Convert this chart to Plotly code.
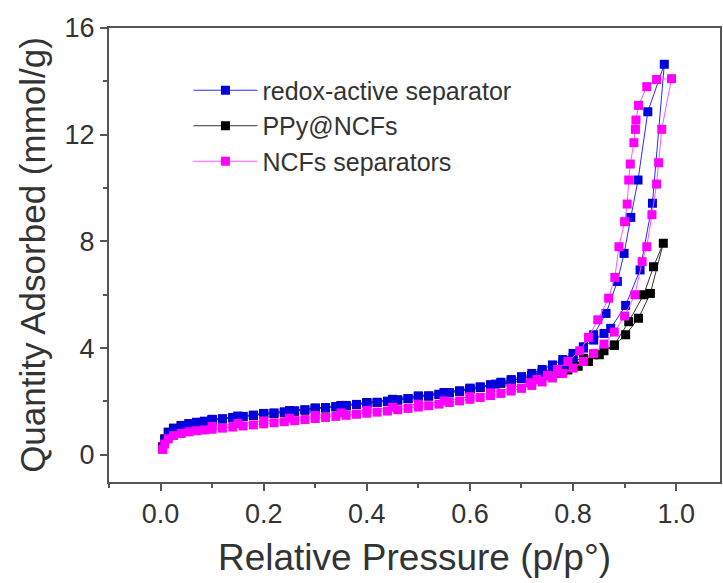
import plotly.graph_objects as go

# ---- data ----
redox_p = [0.004, 0.008, 0.015, 0.025, 0.04, 0.055, 0.07, 0.085, 0.10, 0.12, 0.14, 0.16, 0.18, 0.20,
           0.22, 0.24, 0.26, 0.28, 0.30, 0.32, 0.34, 0.36, 0.38, 0.40, 0.42, 0.44, 0.46, 0.48, 0.50,
           0.52, 0.54, 0.56, 0.58, 0.60, 0.62, 0.64, 0.66, 0.68, 0.70, 0.72, 0.74, 0.76, 0.78, 0.80,
           0.82, 0.84, 0.86, 0.873, 0.902, 0.93, 0.954, 0.977,
           0.945, 0.926, 0.912, 0.899, 0.886, 0.864, 0.84, 0.82, 0.80, 0.78, 0.76, 0.74, 0.72, 0.70,
           0.65, 0.60, 0.55, 0.50, 0.45, 0.40, 0.35, 0.30, 0.25, 0.20, 0.15, 0.10]
redox_q = [0.25, 0.55, 0.82, 0.98, 1.10, 1.17, 1.22, 1.26, 1.30, 1.35, 1.40, 1.44, 1.49, 1.53,
           1.57, 1.61, 1.65, 1.69, 1.73, 1.77, 1.81, 1.85, 1.89, 1.93, 1.97, 2.01, 2.06, 2.11, 2.16,
           2.21, 2.27, 2.33, 2.40, 2.47, 2.55, 2.63, 2.72, 2.82, 2.93, 3.05, 3.20, 3.37, 3.57, 3.80,
           4.05, 4.30, 4.55, 4.74, 5.60, 6.93, 9.43, 14.64,
           12.86, 10.30, 8.90, 7.55, 6.50, 5.30, 4.50, 4.00, 3.65, 3.40, 3.20, 3.05, 2.95, 2.85,
           2.65, 2.50, 2.33, 2.20, 2.07, 1.95, 1.84, 1.75, 1.65, 1.55, 1.45, 1.33]

ppy_p = [0.004, 0.008, 0.015, 0.025, 0.04, 0.055, 0.07, 0.085, 0.10, 0.12, 0.14, 0.16, 0.18, 0.20,
         0.22, 0.24, 0.26, 0.28, 0.30, 0.32, 0.34, 0.36, 0.38, 0.40, 0.42, 0.44, 0.46, 0.48, 0.50,
         0.52, 0.54, 0.56, 0.58, 0.60, 0.62, 0.64, 0.66, 0.68, 0.70, 0.72, 0.74, 0.76, 0.78, 0.80,
         0.82, 0.84, 0.86, 0.88, 0.902, 0.927, 0.95, 0.975,
         0.956, 0.937, 0.908, 0.88, 0.851, 0.83, 0.81, 0.79, 0.77, 0.75, 0.72, 0.68, 0.64, 0.60,
         0.55, 0.50, 0.45, 0.40, 0.35, 0.30, 0.25, 0.20, 0.15, 0.10]
ppy_q = [0.30, 0.60, 0.85, 1.00, 1.10, 1.16, 1.21, 1.25, 1.29, 1.34, 1.38, 1.43, 1.47, 1.51,
         1.55, 1.59, 1.63, 1.67, 1.71, 1.75, 1.79, 1.83, 1.88, 1.92, 1.96, 2.00, 2.05, 2.10, 2.15,
         2.20, 2.26, 2.32, 2.38, 2.45, 2.52, 2.60, 2.68, 2.77, 2.87, 2.98, 3.10, 3.23, 3.37, 3.50,
         3.62, 3.75, 3.90, 4.10, 4.50, 5.12, 6.05, 7.93,
         7.05, 6.00, 4.99, 4.12, 3.75, 3.50, 3.32, 3.18, 3.06, 2.96, 2.84, 2.70, 2.58, 2.47,
         2.33, 2.20, 2.08, 1.96, 1.85, 1.75, 1.65, 1.55, 1.44, 1.32]

ncf_p = [0.004, 0.008, 0.015, 0.025, 0.04, 0.055, 0.07, 0.085, 0.10, 0.12, 0.14, 0.16, 0.18, 0.20,
         0.22, 0.24, 0.26, 0.28, 0.30, 0.32, 0.34, 0.36, 0.38, 0.40, 0.42, 0.44, 0.46, 0.48, 0.50,
         0.52, 0.54, 0.56, 0.58, 0.60, 0.62, 0.64, 0.66, 0.68, 0.70, 0.72, 0.74, 0.76, 0.78, 0.80,
         0.82, 0.84, 0.86, 0.88, 0.90, 0.92, 0.934, 0.943, 0.953, 0.962, 0.966, 0.972, 0.991,
         0.962, 0.943, 0.927, 0.922, 0.921, 0.918, 0.911, 0.908, 0.905, 0.900, 0.889, 0.881, 0.869,
         0.848, 0.83, 0.813, 0.79, 0.77, 0.75, 0.73, 0.717, 0.68, 0.64, 0.60, 0.55, 0.50, 0.45,
         0.40, 0.35, 0.30, 0.25, 0.20, 0.15, 0.10]
ncf_q = [0.20, 0.40, 0.60, 0.72, 0.80, 0.86, 0.90, 0.93, 0.96, 1.00, 1.04, 1.08, 1.12, 1.16,
         1.20, 1.24, 1.28, 1.32, 1.36, 1.40, 1.44, 1.48, 1.52, 1.56, 1.60, 1.64, 1.69, 1.74, 1.79,
         1.84, 1.90, 1.96, 2.02, 2.08, 2.15, 2.22, 2.30, 2.39, 2.49, 2.60, 2.73, 2.88, 3.05, 3.25,
         3.50, 3.80, 4.15, 4.60, 5.20, 6.00, 7.24, 7.80, 9.00, 10.15, 10.95, 12.20, 14.10,
         14.07, 13.80, 13.10, 12.55, 12.20, 11.70, 10.90, 10.30, 9.40, 8.74, 7.80, 6.65, 5.87,
         5.06, 4.40, 3.90, 3.50, 3.20, 2.98, 2.82, 2.70, 2.50, 2.32, 2.18, 2.02, 1.90, 1.78,
         1.67, 1.57, 1.47, 1.37, 1.27, 1.17, 1.06]

x_ticks = [0.0, 0.2, 0.4, 0.6, 0.8, 1.0]
x_tick_labels = ["0.0", "0.2", "0.4", "0.6", "0.8", "1.0"]
y_ticks = [0, 4, 8, 12, 16]
y_tick_labels = ["0", "4", "8", "12", "16"]

# (name, x, y, marker colour, line colour, legend rank); drawn black first so blue sits on top
series = [
    ("PPy@NCFs", ppy_p, ppy_q, "#000000", "#333333", 2),
    ("redox-active separator", redox_p, redox_q, "#0000dd", "#2a2aff", 1),
    ("NCFs separators", ncf_p, ncf_q, "#ff00ff", "#ff55ff", 3),
]

fig = go.Figure()
for name, xs, ys, mcol, lcol, rank in series:
    fig.add_trace(go.Scatter(
        x=xs, y=ys, name=name, mode="lines+markers", legendrank=rank,
        line=dict(color=lcol, width=1),
        marker=dict(symbol="square", size=9, color=mcol, line=dict(width=0)),
    ))

font_family = "Liberation Sans, Arial, sans-serif"
axis_common = dict(
    showline=True, linecolor="#555555", linewidth=2, mirror=True,
    ticks="outside", ticklen=7, tickwidth=1.5, tickcolor="#555555",
    showgrid=False, zeroline=False,
    tickfont=dict(family=font_family, size=27, color="#333333"),
)

fig.update_layout(
    width=723, height=583,
    margin=dict(l=109, r=1, t=28, b=101),
    paper_bgcolor="white", plot_bgcolor="white",
    showlegend=True,
    legend=dict(
        x=0.13, y=0.913, xanchor="left", yanchor="top",
        bgcolor="rgba(0,0,0,0)", borderwidth=0,
        font=dict(family=font_family, size=25, color="#333333"),
        itemwidth=64, tracegroupgap=0, traceorder="normal",
    ),
)
fig.update_xaxes(
    range=[-0.1, 1.085], tickvals=x_ticks, ticktext=x_tick_labels,
    minor=dict(ticks="outside", ticklen=4, dtick=0.1, tick0=0, tickcolor="#555555"),
    title_text="Relative Pressure (p/p°)", title_standoff=16,
    title_font=dict(family=font_family, size=37, color="#333333"),
    **axis_common,
)
fig.update_yaxes(
    range=[-1.02, 16], tickvals=y_ticks, ticktext=y_tick_labels,
    minor=dict(ticks="outside", ticklen=4, dtick=2, tick0=0, tickcolor="#555555"),
    title_text="Quantity Adsorbed (mmol/g)", title_standoff=8,
    title_font=dict(family=font_family, size=35, color="#333333"),
    **axis_common,
)

fig.write_html("out.html")
